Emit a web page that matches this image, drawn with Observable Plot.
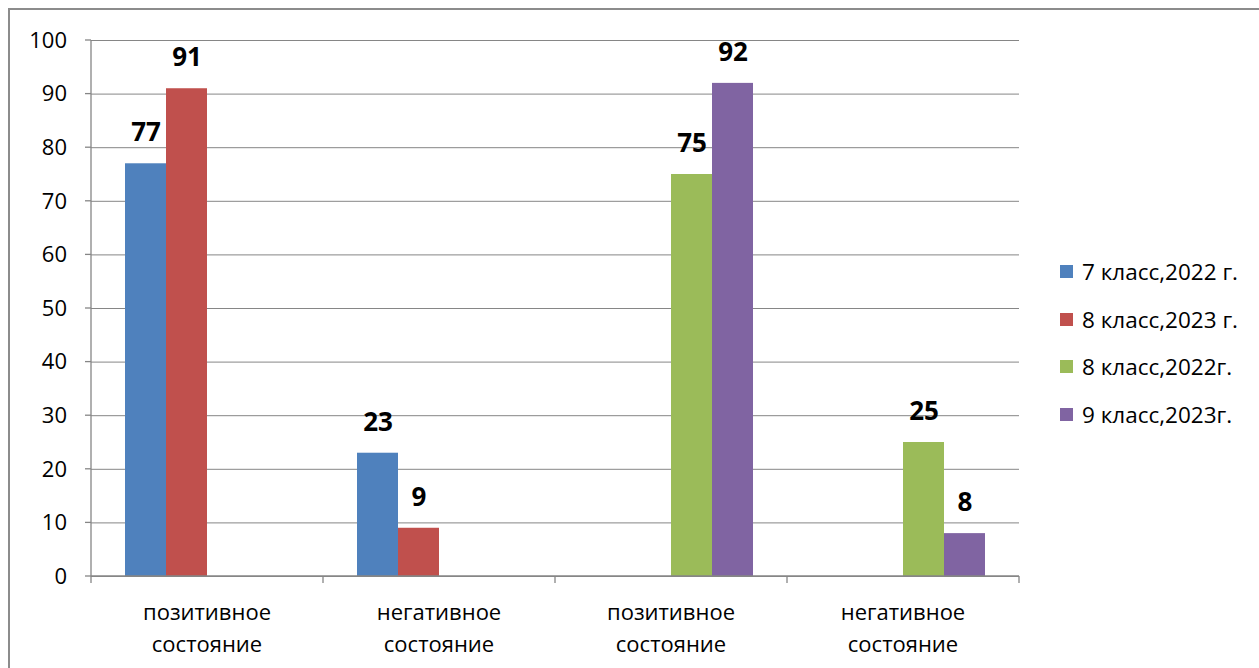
<!DOCTYPE html>
<html>
<head>
<meta charset="utf-8">
<script src="https://cdn.jsdelivr.net/npm/d3@7"></script>
<script src="https://cdn.jsdelivr.net/npm/@observablehq/plot@0.6"></script>
<style>
  html, body { margin: 0; padding: 0; background: #fff; overflow: hidden; }
  #wrap { position: relative; width: 1259px; height: 668px; overflow: hidden; background: #fff; }
  #border { position: absolute; left: 8px; top: 8px; width: 1300px; height: 700px; border: 2px solid #8c8c8c; box-sizing: border-box; }
  #chart { position: absolute; left: 0; top: 0; }
  #legend { position: absolute; left: 1060px; top: 248px; font-family: "Open Sans", "Liberation Sans", sans-serif; font-size: 22.5px; color: #000; }
  .item { display: flex; align-items: center; height: 47.5px; white-space: nowrap; }
  .sw { width: 13px; height: 13px; margin-right: 9px; }
</style>
</head>
<body>
<div id="wrap">
  <div id="border"></div>
  <div id="chart"></div>
  <div id="legend"></div>
</div>
<script>
const categoryLabels = ["позитивное\nсостояние", "негативное\nсостояние", "позитивное\nсостояние", "негативное\nсостояние"];
const seriesNames = ["7 класс,2022 г.", "8 класс,2023 г.", "8 класс,2022г.", "9 класс,2023г."];
const series7kl2022 = [77, 23, null, null];
const series8kl2023 = [91, 9, null, null];
const series8kl2022 = [null, null, 75, 25];
const series9kl2023 = [null, null, 92, 8];
const seriesColors = ["#4F81BD", "#C0504D", "#9BBB59", "#8064A2"];
const yTicks = [0, 10, 20, 30, 40, 50, 60, 70, 80, 90, 100];

const allSeries = [series7kl2022, series8kl2023, series8kl2022, series9kl2023];
const rows = [];
allSeries.forEach((vals, s) => {
  vals.forEach((v, c) => {
    if (v != null) rows.push({cat: c, series: seriesNames[s], value: v});
  });
});

const font = '"Open Sans", "Liberation Sans", sans-serif';

const chart = Plot.plot({
  width: 1259,
  height: 668,
  marginLeft: 91,
  marginRight: 240,
  marginTop: 40,
  marginBottom: 92,
  style: {fontFamily: font, fontSize: "20px", color: "#000", background: "transparent", overflow: "visible"},
  fx: {domain: [0, 1, 2, 3], paddingInner: 0, paddingOuter: 0, label: null, axis: null},
  x: {domain: seriesNames, paddingInner: 0, paddingOuter: 0.762, axis: null},
  y: {domain: [0, 100], label: null, axis: null},
  color: {domain: seriesNames, range: seriesColors},
  marks: [
    Plot.gridY(yTicks, {stroke: "#868686", strokeOpacity: 1, strokeWidth: 1}),
    Plot.barY(rows, {fx: "cat", x: "series", y: "value", fill: "series"}),
    Plot.text(rows, {fx: "cat", x: "series", y: "value", text: d => String(d.value),
      dy: -31, fontWeight: "bold", fontSize: 26, fill: "#000", lineAnchor: "middle"})
  ]
});
document.getElementById("chart").appendChild(chart);

// axes drawn from Plot's scales
const fx = chart.scale("fx");
const y = chart.scale("y");
const svg = d3.select(chart);
const g = svg.append("g").attr("stroke", "#868686").attr("stroke-width", 1.3);
const x0 = fx.apply(0);
const x1 = fx.apply(3) + fx.bandwidth;
const yTop = y.apply(100), yBot = y.apply(0);
g.append("line").attr("x1", x0).attr("x2", x0).attr("y1", yTop).attr("y2", yBot);
g.append("line").attr("x1", x0).attr("x2", x1).attr("y1", yBot).attr("y2", yBot);
yTicks.forEach(t => {
  g.append("line").attr("x1", x0 - 6).attr("x2", x0).attr("y1", y.apply(t)).attr("y2", y.apply(t));
});
const bounds = [0, 1, 2, 3].map(i => fx.apply(i)).concat([x1]);
bounds.forEach(b => {
  g.append("line").attr("x1", b).attr("x2", b).attr("y1", yBot).attr("y2", yBot + 7);
});
const tl = svg.append("g").attr("font-family", font).attr("fill", "#000");
yTicks.forEach(t => {
  tl.append("text").attr("x", x0 - 24).attr("y", y.apply(t)).attr("dy", "0.35em")
    .attr("font-size", 22).attr("text-anchor", "end").text(t);
});
categoryLabels.forEach((lab, i) => {
  const cx = fx.apply(i) + fx.bandwidth / 2;
  lab.split("\n").forEach((line, k) => {
    tl.append("text").attr("x", cx).attr("y", yBot + 36 + k * 32).attr("dy", "0.35em")
      .attr("font-size", 22).attr("text-anchor", "middle").text(line);
  });
});

// legend
const legend = document.getElementById("legend");
seriesNames.forEach((name, i) => {
  const it = document.createElement("div");
  it.className = "item";
  const sw = document.createElement("div");
  sw.className = "sw";
  sw.style.background = seriesColors[i];
  const tx = document.createElement("span");
  tx.textContent = name;
  it.appendChild(sw);
  it.appendChild(tx);
  legend.appendChild(it);
});
</script>
</body>
</html>
